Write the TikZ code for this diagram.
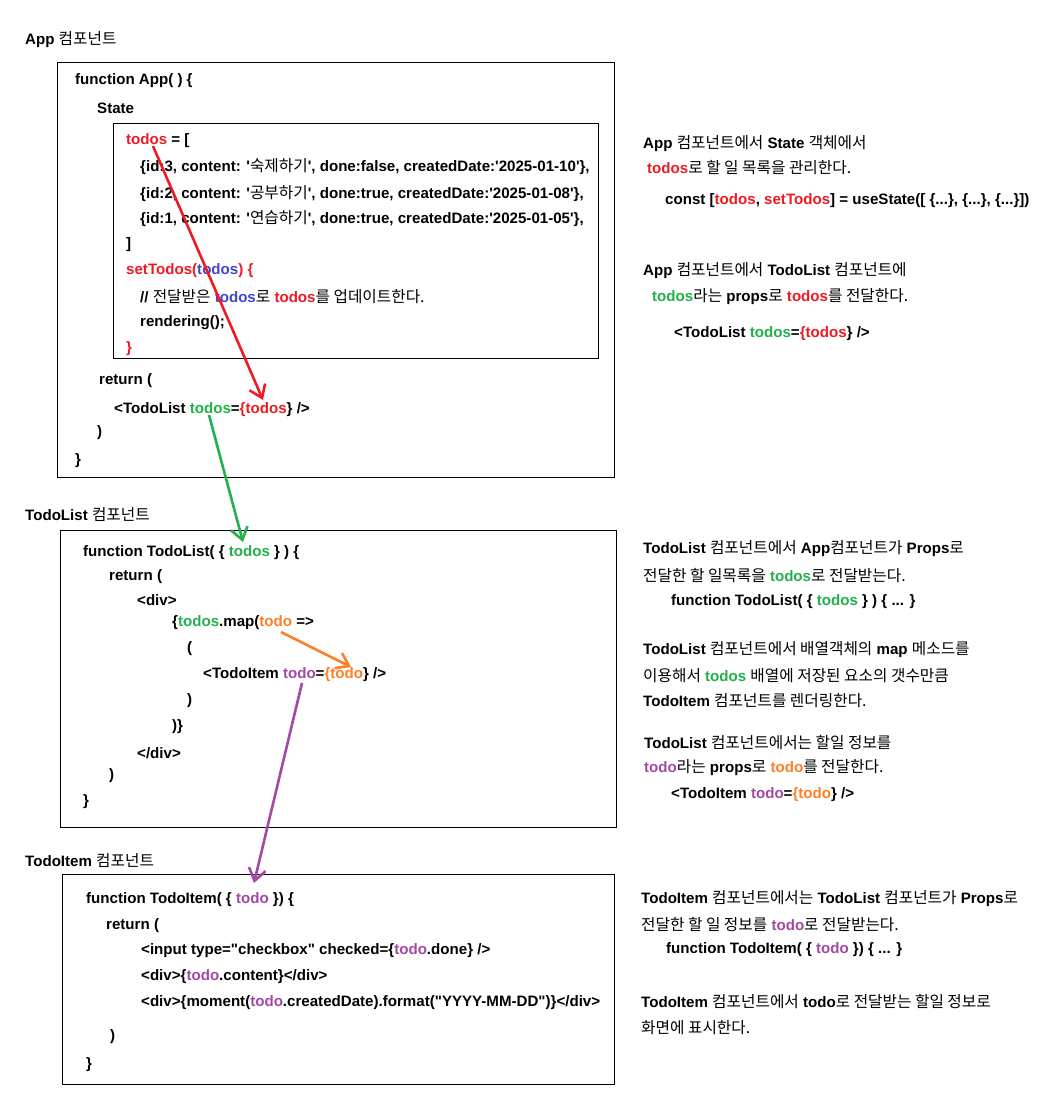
\documentclass[tikz,border=0pt]{standalone}
\usepackage{fontspec}
\setmainfont{Liberation Sans}
\newfontfamily\kr{Noto Sans CJK KR}[Scale=1.04]
\usetikzlibrary{arrows.meta}
\definecolor{cr}{RGB}{237,28,36}
\definecolor{cg}{RGB}{34,177,76}
\definecolor{cb}{RGB}{63,72,204}
\definecolor{co}{RGB}{255,127,39}
\definecolor{cp}{RGB}{163,73,164}
\newcommand{\ko}[1]{{\kr\mdseries #1}}
\newcommand{\cR}[1]{\textcolor{cr}{#1}}
\newcommand{\cG}[1]{\textcolor{cg}{#1}}
\newcommand{\cB}[1]{\textcolor{cb}{#1}}
\newcommand{\cO}[1]{\textcolor{co}{#1}}
\newcommand{\cP}[1]{\textcolor{cp}{#1}}
\newcommand{\qs}{\textquotesingle}
\newcommand{\dq}{\textquotedbl}
\begin{document}
\begin{tikzpicture}[x=1pt,y=-1pt,
  txt/.style={anchor=west,inner sep=0pt,yshift=-2pt,font=\bfseries\fontsize{15.1}{17}\selectfont},
  boxst/.style={draw=black,line width=1.2pt,anchor=north west,inner sep=0pt},
  arr/.style={line width=2.6pt,-{Straight Barb[length=12pt,width=17pt]}}]
\fill[white] (0,0) rectangle (1038,1114);
\useasboundingbox (0,0) rectangle (1038,1114);

% boxes
\node[boxst,minimum width=557pt,minimum height=415pt] (appbox) at (57,62) {};
\node[boxst,minimum width=485pt,minimum height=235pt] (statebox) at (113,123) {};
\node[boxst,minimum width=556pt,minimum height=297pt] (listbox) at (60,530) {};
\node[boxst,minimum width=552pt,minimum height=210pt] (itembox) at (62,874) {};

% section labels
\node[txt] (lapp) at (25,38) {App \ko{컴포넌트}};
\node[txt] (llist) at (25,513) {TodoList \ko{컴포넌트}};
\node[txt] (litem) at (25,859) {TodoItem \ko{컴포넌트}};

% App box
\node[txt] (a1) at (75,79) {function App( ) \{};
\node[txt] (a2) at (97,106) {State};
\node[txt] (a3) at (126,139) {\cR{todos} = [};
\node[txt] (a4) at (140,165) {\{id:3, content: \qs\ko{숙제하기}\qs, done:false, createdDate:\qs2025-01-10\qs\},};
\node[txt] (a5) at (140,192) {\{id:2, content: \qs\ko{공부하기}\qs, done:true, createdDate:\qs2025-01-08\qs\},};
\node[txt] (a6) at (140,217) {\{id:1, content: \qs\ko{연습하기}\qs, done:true, createdDate:\qs2025-01-05\qs\},};
\node[txt] (a7) at (126,243) {]};
\node[txt] (a8) at (126,269) {\cR{setTodos(}\cB{todos}\cR{) \{}};
\node[txt] (a9) at (140,295) {// \ko{전달받은} \cB{todos}\ko{로} \cR{todos}\ko{를 업데이트한다.}};
\node[txt] (a10) at (140,321) {rendering();};
\node[txt] (a11) at (126,347) {\cR{\}}};
\node[txt] (a12) at (99,379) {return (};
\node[txt] (a13) at (114,408) {<TodoList \cG{todos}=\cR{\{todos}\} />};
\node[txt] (a14) at (97,431) {)};
\node[txt] (a15) at (75,459) {\}};

% App right text
\node[txt] (r1) at (643,142) {App \ko{컴포넌트에서} State \ko{객체에서}};
\node[txt] (r2) at (647,166) {\cR{todos}\ko{로 할 일 목록을 관리한다.}};
\node[txt] (r3) at (665,199) {const [\cR{todos}, \cR{setTodos}] = useState([ \{...\}, \{...\}, \{...\}])};
\node[txt] (r4) at (643,269) {App \ko{컴포넌트에서} TodoList \ko{컴포넌트에}};
\node[txt] (r5) at (652,295) {\cG{todos}\ko{라는} props\ko{로} \cR{todos}\ko{를 전달한다.}};
\node[txt] (r6) at (674,332) {<TodoList \cG{todos}=\cR{\{todos}\} />};

% TodoList box
\node[txt] (b1) at (83,551) {function TodoList( \{ \cG{todos} \} ) \{};
\node[txt] (b2) at (109,575) {return (};
\node[txt] (b3) at (137,598) {<div>};
\node[txt] (b4) at (172,621) {\{\cG{todos}.map(\cO{todo} =>};
\node[txt] (b5) at (187,647) {(};
\node[txt] (b6) at (203,673) {<TodoItem \cP{todo}=\cO{\{todo}\} />};
\node[txt] (b7) at (187,699) {)};
\node[txt] (b8) at (172,725) {)\}};
\node[txt] (b9) at (137,751) {</div>};
\node[txt] (b10) at (109,774) {)};
\node[txt] (b11) at (83,800) {\}};

% TodoList right text
\node[txt] (s1) at (643,547) {TodoList \ko{컴포넌트에서} App\ko{컴포넌트가} Props\ko{로}};
\node[txt] (s2) at (643,574) {\ko{전달한 할 일목록을} \cG{todos}\ko{로 전달받는다.}};
\node[txt] (s3) at (671,600) {function TodoList( \{ \cG{todos} \} ) \{ ... \}};
\node[txt] (s4) at (643,648) {TodoList \ko{컴포넌트에서 배열객체의} map \ko{메소드를}};
\node[txt] (s5) at (643,674) {\ko{이용해서} \cG{todos} \ko{배열에 저장된 요소의 갯수만큼}};
\node[txt] (s6) at (643,699) {TodoItem \ko{컴포넌트를 렌더링한다.}};
\node[txt] (s7) at (644,741) {TodoList \ko{컴포넌트에서는 할일 정보를}};
\node[txt] (s8) at (644,766) {\cP{todo}\ko{라는} props\ko{로} \cO{todo}\ko{를 전달한다.}};
\node[txt] (s9) at (671,793) {<TodoItem \cP{todo}=\cO{\{todo}\} />};

% TodoItem box
\node[txt] (c1) at (86,898) {function TodoItem( \{ \cP{todo} \}) \{};
\node[txt] (c2) at (106,924) {return (};
\node[txt] (c3) at (141,949) {<input type=\dq checkbox\dq{} checked=\{\cP{todo}.done\} />};
\node[txt] (c4) at (141,975) {<div>\{\cP{todo}.content\}</div>};
\node[txt] (c5) at (141,1001) {<div>\{moment(\cP{todo}.createdDate).format(\dq YYYY-MM-DD\dq)\}</div>};
\node[txt] (c6) at (110,1035) {)};
\node[txt] (c7) at (86,1063) {\}};

% TodoItem right text
\node[txt] (t1) at (641,897) {TodoItem \ko{컴포넌트에서는} TodoList \ko{컴포넌트가} Props\ko{로}};
\node[txt] (t2) at (641,923) {\ko{전달한 할 일 정보를} \cP{todo}\ko{로 전달받는다.}};
\node[txt] (t3) at (666,948) {function TodoItem( \{ \cP{todo} \}) \{ ... \}};
\node[txt] (t4) at (641,1000) {TodoItem \ko{컴포넌트에서} todo\ko{로 전달받는 할일 정보로}};
\node[txt] (t5) at (641,1026) {\ko{화면에 표시한다.}};

% arrow endpoints
\coordinate (redS) at (153,146);
\coordinate (redE) at (263,400);
\coordinate (grnS) at (209,415);
\coordinate (grnE) at (243,542);
\coordinate (orgS) at (281,632);
\coordinate (orgE) at (351,667);
\coordinate (purS) at (302,683);
\coordinate (purE) at (254,883);

\draw[arr,draw=cr] (redS) -- (redE);
\draw[arr,draw=cg] (grnS) -- (grnE);
\draw[arr,draw=co] (orgS) -- (orgE);
\draw[arr,draw=cp] (purS) -- (purE);
\end{tikzpicture}
\end{document}
